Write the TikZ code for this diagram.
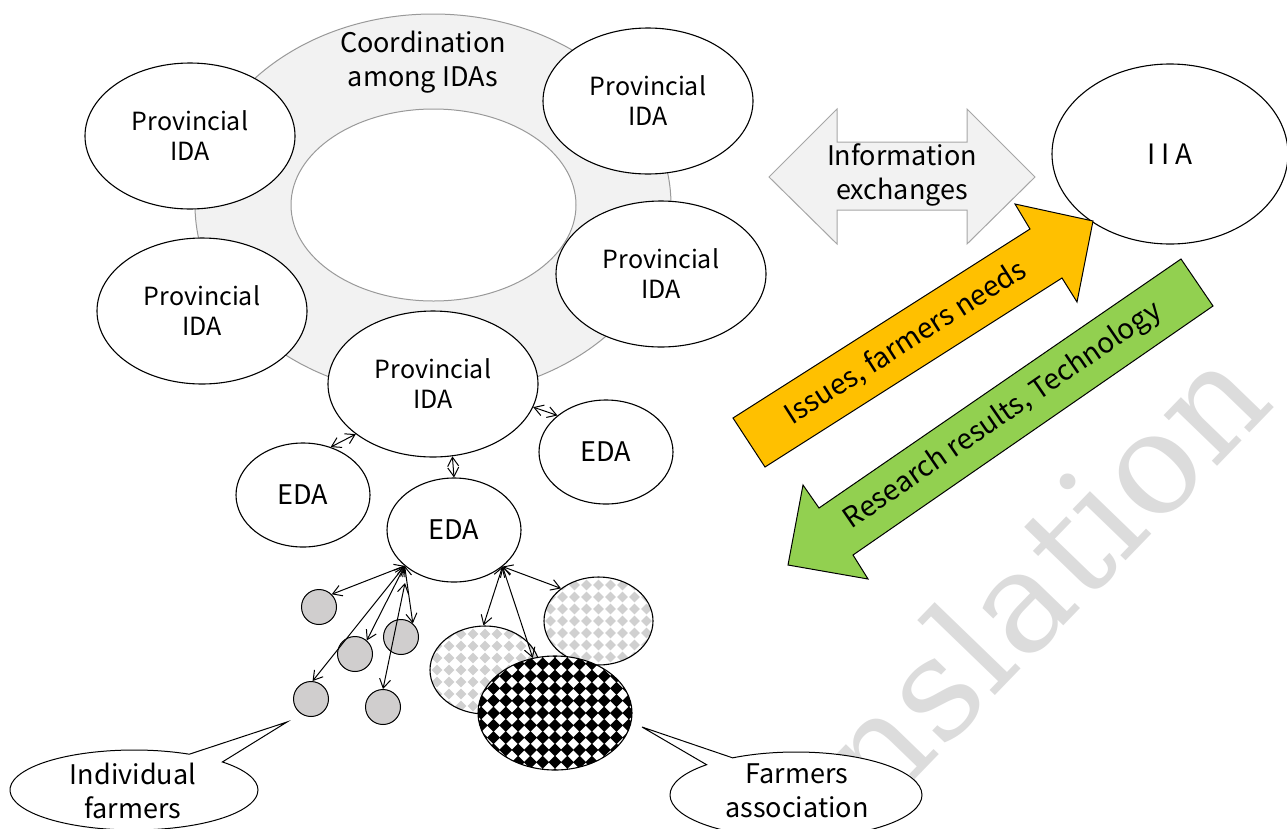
\documentclass[tikz,border=0pt]{standalone}
\usepackage{fontspec}
\setmainfont{Noto Sans CJK JP}
\newfontfamily\wmfont{DejaVu Serif}
\usetikzlibrary{shapes.geometric,shapes.callouts,arrows.meta}

\definecolor{ringfill}{HTML}{F2F2F2}
\definecolor{ringline}{HTML}{999999}
\definecolor{farmgray}{HTML}{D0CECE}
\definecolor{patgray}{HTML}{D0D0D0}
\definecolor{issueorange}{HTML}{FFC000}
\definecolor{resgreen}{HTML}{92D050}
\definecolor{infoline}{HTML}{A6A6A6}
\definecolor{wmgray}{HTML}{DCDCDC}

\tikzset{
  prov/.style={ellipse, draw=black, fill=white, line width=1.1pt,
    minimum width=210pt, minimum height=146pt, inner sep=0pt, align=center,
    font=\fontsize{25}{30}\selectfont},
  eda/.style={ellipse, draw=black, fill=white, line width=1.1pt,
    minimum width=134pt, minimum height=104pt, inner sep=0pt,
    font=\fontsize{27}{32}\selectfont},
  farmer/.style={circle, draw=black, fill=farmgray, line width=1pt,
    minimum size=35pt, inner sep=0pt},
  link/.style={{Straight Barb[length=9pt,width=11pt]}-{Straight Barb[length=9pt,width=11pt]},
    line width=1pt},
  bubble/.style={ellipse callout, draw=black, fill=white, line width=1pt, inner sep=0pt},
  label/.style={align=center, inner sep=0pt, font=\fontsize{27}{34}\selectfont},
  arrowtext/.style={inner sep=0pt, font=\fontsize{28}{34}\selectfont},
  blockarrow/.style={draw=black, line width=1pt, line join=miter},
  lightgrid/.style={path picture={
    \foreach \i in {-6,...,6}{\foreach \j in {-5,...,5}{
      \fill[patgray] ([shift={(\i*12,\j*12)}]path picture bounding box.center)
        +(0,-5.4) -- +(5.4,0) -- +(0,5.4) -- +(-5.4,0) -- cycle;}}}},
  darkgrid/.style={path picture={
    \foreach \i in {-7,...,7}{\foreach \j in {-5,...,5}{
      \fill[black] ([shift={(\i*12.3,\j*12.3)}]path picture bounding box.center)
        +(0,-6.5) -- +(6.5,0) -- +(0,6.5) -- +(-6.5,0) -- cycle;}}}},
}

\begin{document}
\begin{tikzpicture}[x=1pt,y=-1pt]
\useasboundingbox (0,0) rectangle (1287,828);

% watermark behind everything
\node[font=\wmfont\fontsize{142}{142}\selectfont, text=wmgray, rotate=46,
  inner sep=0pt] (wm) at (1040,574) {nslation};

% coordination ring
\node[ellipse, draw=ringline, fill=ringfill, line width=1pt,
  minimum width=476pt, minimum height=382pt, inner sep=0pt] (ring) at (433,205) {};
\node[ellipse, draw=ringline, fill=white, line width=1pt,
  minimum width=285pt, minimum height=192pt, inner sep=0pt] (core) at (433.5,205) {};
\node[label] (coord) at (423,62) {Coordination\\among IDAs};

% provincial IDAs
\node[prov] (p1) at (190,136) {Provincial\\IDA};
\node[prov] (p2) at (648,101) {Provincial\\IDA};
\node[prov] (p3) at (202,311) {Provincial\\IDA};
\node[prov] (p4) at (661,274) {Provincial\\IDA};
\node[prov] (pIDA) at (433,384) {Provincial\\IDA};

% extension agencies
\node[eda] (lEDA) at (303,495) {EDA};
\node[eda] (rEDA) at (606,452) {EDA};
\node[eda] (cEDA) at (454,530) {EDA};

% individual farmers
\node[farmer] (fa) at (319,607) {};
\node[farmer] (fb) at (355,654) {};
\node[farmer] (fc) at (401,637) {};
\node[farmer] (fd) at (311,699) {};
\node[farmer] (fe) at (383,707) {};

% farmer groups
\node[ellipse, draw=black, fill=white, line width=1.1pt, minimum width=109pt,
  minimum height=88pt, inner sep=0pt, lightgrid] (assocR) at (598.5,621) {};
\node[ellipse, draw=black, fill=white, line width=1.1pt, minimum width=110pt,
  minimum height=88pt, inner sep=0pt, lightgrid] (assocL) at (485,670) {};
\node[ellipse, draw=black, fill=white, line width=1.1pt, minimum width=154pt,
  minimum height=114pt, inner sep=0pt, darkgrid] (assocB) at (555,713) {};

% links between agencies and farmers
\draw[link] (pIDA.213.5) -- (lEDA.60);
\draw[link] (pIDA.-13.6) -- (rEDA.143);
\draw[link] (pIDA.-75) -- (cEDA.north);
\coordinate (hubL) at (cEDA.216);
\coordinate (hubR) at (cEDA.-37);
\coordinate (hubL2) at (405,583);
\draw[link] (hubL) -- (fa.45);
\draw[link] (hubL) -- (fb.49);
\draw[link] (hubL) -- (fc.49);
\draw[link] (hubL) -- (fd.85);
\draw[link] (hubL2) -- (fe.90);
\draw[link] (hubR) -- (assocL.92);
\draw[link] (hubR) -- (assocB.112);
\draw[link] (hubR) -- (assocR.139);

% callouts
\node[bubble, minimum width=248pt, minimum height=80pt,
  callout absolute pointer={(287,722)}, callout pointer arc=19] (indiv) at (134,790) {};
\node[label] (indivText) at (133,791) {Individual\\farmers};

\node[bubble, minimum width=252pt, minimum height=86pt,
  callout absolute pointer={(642,727)}, callout pointer arc=15] (assoc) at (796,795) {};
\node[label] (assocText) at (797,791) {Farmers\\association};

% information exchange
\draw[draw=infoline, fill=ringfill, line width=1pt]
  (769,177) -- (837,109) -- (837,142) -- (967,142) -- (967,109) -- (1035,177)
  -- (967,244) -- (967,210) -- (837,210) -- (837,244) -- cycle;
\node[label] (info) at (902,175) {Information\\exchanges};

% research institute
\node[ellipse, draw=black, fill=white, line width=1.1pt, minimum width=236pt,
  minimum height=180pt, inner sep=0pt, font=\fontsize{28}{32}\selectfont] (iia) at (1170,154) {I I A};

% upward flow: issues
\draw[blockarrow, fill=issueorange]
  (733,418) -- (1030,229) -- (1015,204) -- (1093,221) -- (1077,302) -- (1062,278)
  -- (765,467) -- cycle;
\node[arrowtext, rotate=32.5] (issues) at (906,343) {Issues, farmers needs};

% downward flow: research results
\draw[blockarrow, fill=resgreen]
  (1181,259) -- (819,508) -- (803,485) -- (788,565) -- (868,579) -- (853,555)
  -- (1213,306) -- cycle;
\node[arrowtext, rotate=34.5] (results) at (1003,416) {Research results, Technology};
\end{tikzpicture}
\end{document}
